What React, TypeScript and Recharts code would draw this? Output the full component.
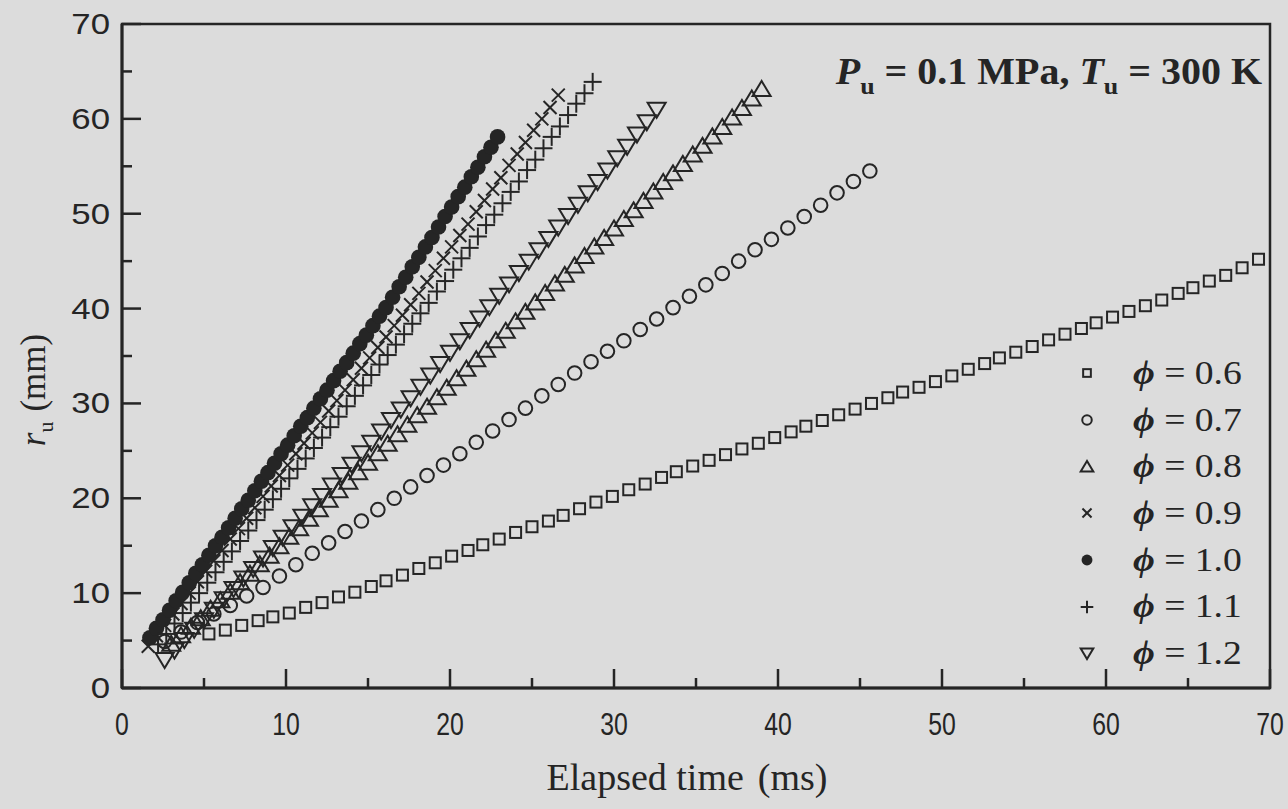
import React from 'react';
import {
    ScatterChart, Scatter, XAxis, YAxis, ReferenceArea, Legend
} from 'recharts';

const INK = '#252525';
const BG = '#dcdcdc';

// elapsed time (ms), flame radius r_u (mm)
const PHI06: [number, number][] = [
    [5.3, 5.7], [6.3, 6.1], [7.3, 6.6], [8.3, 7.1], [9.2, 7.5], [10.2, 7.9], [11.2, 8.5], [12.2, 9.0],
    [13.2, 9.6], [14.2, 10.1], [15.2, 10.7], [16.1, 11.3], [17.1, 11.9], [18.1, 12.6], [19.1, 13.2],
    [20.1, 13.9], [21.1, 14.5], [22.0, 15.1], [23.0, 15.7], [24.0, 16.4], [25.0, 17.0], [26.0, 17.6],
    [26.9, 18.2], [27.9, 18.9], [28.9, 19.6], [29.9, 20.2], [30.9, 20.9], [31.9, 21.5], [32.9, 22.2],
    [33.8, 22.8], [34.8, 23.4], [35.8, 24.0], [36.8, 24.6], [37.8, 25.2], [38.8, 25.8], [39.8, 26.4],
    [40.8, 27.0], [41.7, 27.6], [42.7, 28.2], [43.7, 28.8], [44.7, 29.4], [45.7, 30.0], [46.7, 30.6],
    [47.6, 31.2], [48.6, 31.7], [49.6, 32.3], [50.6, 32.9], [51.6, 33.6], [52.6, 34.2], [53.5, 34.8],
    [54.5, 35.4], [55.5, 36.0], [56.5, 36.7], [57.5, 37.3], [58.5, 37.9], [59.4, 38.5], [60.4, 39.1],
    [61.4, 39.7], [62.4, 40.3], [63.4, 40.9], [64.4, 41.6], [65.3, 42.2], [66.3, 42.9], [67.3, 43.5],
    [68.3, 44.3], [69.3, 45.2],
];

const PHI07: [number, number][] = [
    [2.6, 4.9], [3.6, 5.9], [4.6, 6.9], [5.6, 7.8], [6.6, 8.7], [7.6, 9.7], [8.6, 10.6], [9.6, 11.8],
    [10.6, 13.0], [11.6, 14.2], [12.6, 15.3], [13.6, 16.5], [14.6, 17.6], [15.6, 18.8], [16.6, 20.0],
    [17.6, 21.2], [18.6, 22.4], [19.6, 23.5], [20.6, 24.7], [21.6, 25.9], [22.6, 27.1], [23.6, 28.3],
    [24.6, 29.5], [25.6, 30.8], [26.6, 32.0], [27.6, 33.2], [28.6, 34.4], [29.6, 35.5], [30.6, 36.6],
    [31.6, 37.8], [32.6, 38.9], [33.6, 40.1], [34.6, 41.3], [35.6, 42.5], [36.6, 43.7], [37.6, 45.0],
    [38.6, 46.2], [39.6, 47.3], [40.6, 48.5], [41.6, 49.7], [42.6, 50.9], [43.6, 52.2], [44.6, 53.4],
    [45.6, 54.5],
];

const PHI08: [number, number][] = [
    [3.0, 4.6], [3.6, 5.5], [4.2, 6.4], [4.8, 7.3], [5.4, 8.3], [6.0, 9.2], [6.6, 10.1], [7.2, 11.1],
    [7.8, 12.0], [8.4, 13.0], [9.0, 13.9], [9.6, 14.9], [10.2, 15.9], [10.8, 16.8], [11.4, 17.8],
    [12.0, 18.8], [12.6, 19.8], [13.2, 20.8], [13.8, 21.7], [14.4, 22.7], [15.0, 23.7], [15.6, 24.7],
    [16.2, 25.7], [16.8, 26.7], [17.4, 27.7], [18.0, 28.7], [18.6, 29.6], [19.2, 30.6], [19.8, 31.6],
    [20.4, 32.6], [21.0, 33.6], [21.6, 34.6], [22.2, 35.6], [22.8, 36.6], [23.4, 37.6], [24.0, 38.6],
    [24.6, 39.6], [25.2, 40.6], [25.8, 41.6], [26.4, 42.6], [27.0, 43.5], [27.6, 44.5], [28.2, 45.5],
    [28.8, 46.5], [29.4, 47.4], [30.0, 48.4], [30.6, 49.4], [31.2, 50.3], [31.8, 51.3], [32.4, 52.3],
    [33.0, 53.3], [33.6, 54.2], [34.2, 55.2], [34.8, 56.2], [35.4, 57.1], [36.0, 58.1], [36.6, 59.1],
    [37.2, 60.1], [37.8, 61.1], [38.4, 62.1], [39.0, 63.1],
];

const PHI09: [number, number][] = [
    [1.6, 4.4], [2.1, 5.5], [2.6, 6.6], [3.1, 7.8], [3.6, 8.9], [4.1, 10.0], [4.6, 11.2], [5.1, 12.3],
    [5.6, 13.4], [6.1, 14.5], [6.6, 15.7], [7.1, 16.8], [7.6, 17.9], [8.1, 19.0], [8.6, 20.2],
    [9.1, 21.3], [9.6, 22.4], [10.1, 23.5], [10.6, 24.7], [11.1, 25.8], [11.6, 26.9], [12.1, 28.0],
    [12.6, 29.2], [13.1, 30.3], [13.6, 31.4], [14.1, 32.5], [14.6, 33.7], [15.1, 34.8], [15.6, 35.9],
    [16.1, 37.0], [16.6, 38.2], [17.1, 39.3], [17.6, 40.4], [18.1, 41.6], [18.6, 42.8], [19.1, 44.0],
    [19.6, 45.3], [20.1, 46.5], [20.6, 47.7], [21.1, 48.9], [21.6, 50.2], [22.1, 51.4], [22.6, 52.6],
    [23.1, 53.8], [23.6, 55.1], [24.1, 56.3], [24.6, 57.5], [25.1, 58.8], [25.6, 60.0], [26.1, 61.2],
    [26.6, 62.5],
];

const PHI10: [number, number][] = [
    [1.7, 5.3], [2.1, 6.3], [2.5, 7.2], [2.9, 8.2], [3.3, 9.2], [3.7, 10.1], [4.1, 11.1], [4.5, 12.1],
    [4.9, 13.0], [5.3, 14.0], [5.7, 15.0], [6.1, 15.9], [6.5, 16.9], [6.9, 17.9], [7.3, 18.9],
    [7.7, 19.8], [8.1, 20.8], [8.5, 21.8], [8.9, 22.7], [9.3, 23.7], [9.7, 24.7], [10.1, 25.6],
    [10.5, 26.6], [10.9, 27.6], [11.3, 28.5], [11.7, 29.5], [12.1, 30.5], [12.5, 31.4], [12.9, 32.4],
    [13.3, 33.4], [13.7, 34.3], [14.1, 35.3], [14.5, 36.3], [14.9, 37.2], [15.3, 38.2], [15.7, 39.2],
    [16.1, 40.1], [16.5, 41.2], [16.9, 42.3], [17.3, 43.3], [17.7, 44.4], [18.1, 45.4], [18.5, 46.5],
    [18.9, 47.5], [19.3, 48.6], [19.7, 49.7], [20.1, 50.7], [20.5, 51.8], [20.9, 52.8], [21.3, 53.9],
    [21.7, 54.9], [22.1, 56.0], [22.5, 57.0], [22.9, 58.1],
];

const PHI11: [number, number][] = [
    [2.2, 4.6], [2.7, 5.7], [3.2, 6.8], [3.7, 7.9], [4.2, 9.0], [4.7, 10.0], [5.2, 11.1], [5.7, 12.2],
    [6.2, 13.3], [6.7, 14.4], [7.2, 15.5], [7.7, 16.6], [8.2, 17.7], [8.7, 18.8], [9.2, 19.9],
    [9.7, 21.0], [10.2, 22.1], [10.7, 23.1], [11.2, 24.2], [11.7, 25.3], [12.2, 26.4], [12.7, 27.5],
    [13.2, 28.6], [13.7, 29.7], [14.2, 30.8], [14.7, 31.9], [15.2, 33.0], [15.7, 34.1], [16.2, 35.1],
    [16.7, 36.2], [17.2, 37.3], [17.7, 38.4], [18.2, 39.5], [18.7, 40.6], [19.2, 41.8], [19.7, 42.9],
    [20.2, 44.1], [20.7, 45.3], [21.2, 46.4], [21.7, 47.6], [22.2, 48.8], [22.7, 49.9], [23.2, 51.1],
    [23.7, 52.3], [24.2, 53.4], [24.7, 54.6], [25.2, 55.7], [25.7, 56.9], [26.2, 58.1], [26.7, 59.2],
    [27.2, 60.4], [27.7, 61.6], [28.2, 62.7], [28.7, 63.9],
];

const PHI12: [number, number][] = [
    [2.6, 3.0], [3.2, 4.0], [3.8, 5.1], [4.4, 6.2], [5.0, 7.2], [5.6, 8.3], [6.2, 9.4], [6.8, 10.5],
    [7.4, 11.6], [8.0, 12.6], [8.6, 13.7], [9.2, 14.8], [9.8, 15.9], [10.4, 17.0], [11.0, 18.1],
    [11.6, 19.2], [12.2, 20.3], [12.8, 21.4], [13.4, 22.5], [14.0, 23.6], [14.6, 24.8], [15.2, 25.9],
    [15.8, 27.1], [16.4, 28.3], [17.0, 29.4], [17.6, 30.6], [18.2, 31.8], [18.8, 33.0], [19.4, 34.2],
    [20.0, 35.4], [20.6, 36.6], [21.2, 37.8], [21.8, 39.0], [22.4, 40.2], [23.0, 41.4], [23.6, 42.6],
    [24.2, 43.8], [24.8, 45.0], [25.4, 46.2], [26.0, 47.4], [26.6, 48.6], [27.2, 49.8], [27.8, 51.0],
    [28.4, 52.2], [29.0, 53.4], [29.6, 54.6], [30.2, 55.9], [30.8, 57.1], [31.4, 58.4], [32.0, 59.7],
    [32.6, 61.0],
];

const TICKS = [0, 5, 10, 15, 20, 25, 30, 35, 40, 45, 50, 55, 60, 65, 70];

type Kind = 'square' | 'circle' | 'tri' | 'cross' | 'dot' | 'plus' | 'trid';

const SERIES: { label: string; kind: Kind; data: [number, number][] }[] = [
    { label: '0.6', kind: 'square', data: PHI06 },
    { label: '0.7', kind: 'circle', data: PHI07 },
    { label: '0.8', kind: 'tri', data: PHI08 },
    { label: '0.9', kind: 'cross', data: PHI09 },
    { label: '1.0', kind: 'dot', data: PHI10 },
    { label: '1.1', kind: 'plus', data: PHI11 },
    { label: '1.2', kind: 'trid', data: PHI12 },
];

const SERIF = "'Liberation Serif', 'Times New Roman', serif";
const SANS = "'Liberation Sans', Arial, sans-serif";

// one marker centred on (cx, cy); s shrinks it for the legend
function Marker({ kind, cx, cy, s = 1 }: { kind: Kind; cx: number; cy: number; s?: number }) {
    const sw = 2;
    switch (kind) {
        case 'square':
            return <rect x={cx - 5.5 * s} y={cy - 5.5 * s} width={11 * s} height={11 * s} fill="none" stroke={INK} strokeWidth={sw} />;
        case 'circle':
            return <circle cx={cx} cy={cy} r={6.8 * s} fill="none" stroke={INK} strokeWidth={sw} />;
        case 'tri':
            return <polygon points={`${cx},${cy - 8.5 * s} ${cx - 9 * s},${cy + 6.5 * s} ${cx + 9 * s},${cy + 6.5 * s}`} fill="none" stroke={INK} strokeWidth={sw} />;
        case 'trid':
            return <polygon points={`${cx - 9 * s},${cy - 6.5 * s} ${cx + 9 * s},${cy - 6.5 * s} ${cx},${cy + 8.5 * s}`} fill="none" stroke={INK} strokeWidth={sw} />;
        case 'cross':
            return (
                <g stroke={INK} strokeWidth={2}>
                    <line x1={cx - 6.5 * s} y1={cy - 6.5 * s} x2={cx + 6.5 * s} y2={cy + 6.5 * s} />
                    <line x1={cx - 6.5 * s} y1={cy + 6.5 * s} x2={cx + 6.5 * s} y2={cy - 6.5 * s} />
                </g>
            );
        case 'plus':
            return (
                <g stroke={INK} strokeWidth={2}>
                    <line x1={cx - 9 * s} y1={cy} x2={cx + 9 * s} y2={cy} />
                    <line x1={cx} y1={cy - 9 * s} x2={cx} y2={cy + 9 * s} />
                </g>
            );
        case 'dot':
        default:
            return <circle cx={cx} cy={cy} r={7.8 * s} fill={INK} />;
    }
}

// bottom axis: ticks point inward, condensed labels
const XTick = (props: any) => {
    const { x, y, payload } = props;
    const major = payload.value % 10 === 0;
    return (
        <g>
            <line x1={x} x2={x} y1={y} y2={y - (major ? 19 : 10)} stroke={INK} strokeWidth={2.5} />
            {major && (
                <text transform={`translate(${x} ${y + 47}) scale(0.8 1)`} textAnchor="middle" fill={INK}
                    fontSize={31} fontFamily={SANS}>
                    {payload.value}
                </text>
            )}
        </g>
    );
};

const YTick = (props: any) => {
    const { x, y, payload } = props;
    const major = payload.value % 10 === 0;
    return (
        <g>
            <line x1={x} x2={x + (major ? 19 : 10)} y1={y} y2={y} stroke={INK} strokeWidth={2.5} />
            {major && (
                <text transform={`translate(${x - 12} ${y + 10}) scale(1.2 1)`} textAnchor="end" fill={INK}
                    fontSize={29} fontFamily={SANS}>
                    {payload.value}
                </text>
            )}
        </g>
    );
};

const YLabel = () => (
    <text x={0} y={0} transform="translate(45 390) rotate(-90)" textAnchor="middle" fill={INK}
        fontSize={35} fontFamily={SERIF}>
        <tspan fontStyle="italic">r</tspan>
        <tspan dy={8} fontSize={22}>u</tspan>
        <tspan dy={-8} dx={10}>(mm)</tspan>
    </text>
);

const XLabel = () => (
    <text x={687} y={790} textAnchor="middle" fill={INK} fontSize={38} fontFamily={SERIF}>
        <tspan>Elapsed time</tspan>
        <tspan dx={14}>(ms)</tspan>
    </text>
);

const renderLegend = () => (
    <div style={{ fontFamily: SERIF, color: INK }}>
        {SERIES.map((s) => (
            <div key={s.label} style={{ height: 46.7, display: 'flex', alignItems: 'center' }}>
                <svg width={34} height={30} style={{ display: 'block' }}>
                    <Marker kind={s.kind} cx={17} cy={15} s={0.7} />
                </svg>
                <span style={{ marginLeft: 29, fontSize: 33, lineHeight: 1, whiteSpace: 'pre', display: 'inline-block', transform: 'scaleX(1.14)', transformOrigin: 'left center' }}>
                    <b><i>ϕ</i></b>{' = ' + s.label}
                </span>
            </div>
        ))}
    </div>
);

export default function App() {
    return (
        <div style={{ position: 'absolute', left: 0, top: 0, width: 1288, height: 809, background: BG }}>
            <ScatterChart width={1288} height={809} margin={{ top: 24, right: 18, left: 0, bottom: 0 }}>
                <XAxis type="number" dataKey="t" domain={[0, 70]} ticks={TICKS} interval={0}
                    height={121} tickSize={0} tickMargin={0} tickLine={false} tick={<XTick />}
                    axisLine={{ stroke: INK, strokeWidth: 3 }} label={<XLabel />} />
                <YAxis type="number" dataKey="r" domain={[0, 70]} ticks={TICKS} interval={0}
                    width={122} tickSize={0} tickMargin={0} tickLine={false} tick={<YTick />}
                    axisLine={{ stroke: INK, strokeWidth: 3 }} label={<YLabel />} />
                <ReferenceArea x1={0} x2={70} y1={0} y2={70} fill="none" stroke={INK} strokeWidth={2.5} />
                {SERIES.map((s) => (
                    <Scatter key={s.label} name={s.label}
                        data={s.data.map(([t, r]) => ({ t, r }))}
                        isAnimationActive={false}
                        shape={(p: any) => <Marker kind={s.kind} cx={p.cx} cy={p.cy} />} />
                ))}
                <Legend layout="vertical" verticalAlign="middle" align="center" content={renderLegend}
                    wrapperStyle={{ left: 1070, top: 350, width: 195 }} />
            </ScatterChart>
            <div style={{
                position: 'absolute', left: 600, width: 662, top: 53, textAlign: 'right',
                fontFamily: SERIF, fontWeight: 'bold', fontSize: 37, lineHeight: 1, color: INK,
                whiteSpace: 'pre', transform: 'scaleX(1.08)', transformOrigin: 'right center'
            }}>
                <i>P</i><sub style={{ fontSize: 24, verticalAlign: -10 }}>u</sub>{' = 0.1 MPa, '}
                <i>T</i><sub style={{ fontSize: 24, verticalAlign: -10 }}>u</sub>{' = 300 K'}
            </div>
        </div>
    );
}
